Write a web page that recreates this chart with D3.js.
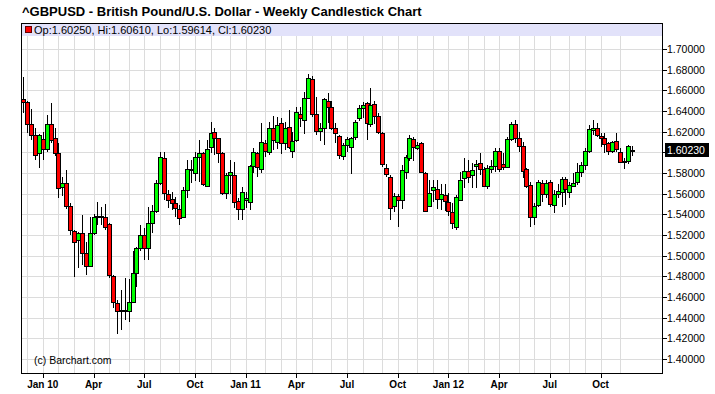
<!DOCTYPE html>
<html>
<head>
<meta charset="utf-8">
<script src="https://cdn.jsdelivr.net/npm/d3@7"></script>
<style>
  html, body { margin: 0; padding: 0; background: #fff; }
  svg { display: block; font-family: "Liberation Sans", Arial, sans-serif; }
</style>
</head>
<body>
<svg id="chart" width="715" height="394"></svg>
<script>
// ---- Data (weekly OHLC, ^GBPUSD, weeks starting Mon 30 Nov 2009) ----
const firstWeek = "2009-11-30";
const open = [
1.6513,1.6484,1.6271,1.6168,1.5990,1.6126,1.6029,1.6271,1.6135,1.5997,
1.5661,1.5706,1.5481,1.5242,1.5152,1.5216,1.5022,1.4900,1.5216,1.5371,
1.5377,1.5377,1.5306,1.4803,1.4545,1.4468,1.4468,1.4468,1.4555,1.4829,
1.5071,1.5200,1.5071,1.5313,1.5432,1.5700,1.5942,1.5597,1.5545,1.5513,
1.5452,1.5377,1.5635,1.5830,1.5797,1.5958,1.5990,1.5677,1.6055,1.6200,
1.6135,1.5997,1.5603,1.5781,1.5781,1.5532,1.5448,1.5536,1.5523,1.5868,
1.5990,1.5835,1.6087,1.6006,1.6239,1.6103,1.6281,1.6094,1.6248,1.6013,
1.6119,1.6368,1.6313,1.6523,1.6706,1.6371,1.6206,1.6232,1.6500,1.6435,
1.6232,1.6161,1.5964,1.6071,1.6048,1.6145,1.6329,1.6426,1.6474,1.6274,
1.6465,1.6352,1.6184,1.5845,1.5758,1.5484,1.5577,1.5539,1.5813,1.5942,
1.6126,1.6042,1.6094,1.5797,1.5484,1.5635,1.5645,1.5548,1.5590,1.5516,
1.5419,1.5281,1.5539,1.5748,1.5819,1.5781,1.5868,1.5894,1.5835,1.5674,
1.5835,1.5871,1.6016,1.5884,1.5861,1.6126,1.6274,1.6142,1.6065,1.5835,
1.5684,1.5377,1.5490,1.5700,1.5597,1.5716,1.5490,1.5600,1.5619,1.5742,
1.5619,1.5674,1.5710,1.5813,1.5877,1.6016,1.6216,1.6232,1.6158,1.6135,
1.6087,1.6016,1.6113,1.6006,1.5903,1.5913,1.60250];
const high = [
1.6732,1.6500,1.6416,1.6232,1.6180,1.6200,1.6361,1.6474,1.6232,1.6087,
1.5764,1.5829,1.5506,1.5248,1.5232,1.5394,1.5135,1.5377,1.5400,1.5523,
1.5474,1.5500,1.5320,1.4810,1.4570,1.4668,1.4781,1.4770,1.5050,1.5087,
1.5297,1.5264,1.5474,1.5490,1.5732,1.6006,1.6006,1.5635,1.5619,1.5571,
1.5490,1.5668,1.5926,1.5926,1.6000,1.6119,1.6000,1.6119,1.6297,1.6232,
1.6135,1.6006,1.5800,1.5926,1.5910,1.5560,1.5668,1.5619,1.5880,1.6039,
1.6006,1.6281,1.6119,1.6297,1.6352,1.6345,1.6329,1.6297,1.6410,1.6200,
1.6442,1.6442,1.6587,1.6758,1.6739,1.6539,1.6281,1.6523,1.6571,1.6500,
1.6281,1.6168,1.6087,1.6145,1.6150,1.6310,1.6460,1.6490,1.6490,1.6619,
1.6500,1.6380,1.6200,1.5890,1.5780,1.5610,1.5600,1.5877,1.5970,1.6170,
1.6150,1.6100,1.6100,1.5810,1.5729,1.5729,1.5729,1.5690,1.5690,1.5610,
1.5506,1.5587,1.5813,1.5942,1.5926,1.5894,1.5926,1.5990,1.5860,1.5880,
1.5930,1.6039,1.6039,1.5990,1.6152,1.6297,1.6313,1.6200,1.6103,1.5845,
1.5716,1.5506,1.5730,1.5730,1.5730,1.5730,1.5640,1.5690,1.5765,1.5765,
1.5716,1.5797,1.5894,1.5910,1.6039,1.6265,1.6313,1.6281,1.6184,1.6184,
1.6103,1.6113,1.6184,1.6039,1.5942,1.6071,1.60610];
const low = [
1.6384,1.6190,1.6119,1.5926,1.5845,1.5926,1.6000,1.6087,1.5960,1.5555,
1.5580,1.5450,1.5200,1.4790,1.4877,1.4910,1.4813,1.4890,1.5200,1.5300,
1.5300,1.5250,1.4780,1.4490,1.4242,1.4281,1.4378,1.4361,1.4550,1.4700,
1.5050,1.4958,1.4958,1.5216,1.5410,1.5684,1.5539,1.5458,1.5442,1.5377,
1.5297,1.5361,1.5555,1.5700,1.5720,1.5716,1.5670,1.5668,1.5990,1.5974,
1.5900,1.5587,1.5550,1.5600,1.5458,1.5345,1.5345,1.5458,1.5442,1.5800,
1.5758,1.5797,1.5958,1.5974,1.6023,1.6029,1.5984,1.6023,1.6029,1.5942,
1.6100,1.6248,1.6177,1.6513,1.6345,1.6168,1.6113,1.6071,1.6281,1.6216,
1.6094,1.5932,1.5926,1.6000,1.5790,1.6119,1.6300,1.6330,1.6119,1.6248,
1.6270,1.6180,1.5860,1.5760,1.5350,1.5420,1.5281,1.5450,1.5740,1.5920,
1.5920,1.6020,1.5797,1.5430,1.5470,1.5520,1.5450,1.5440,1.5430,1.5380,
1.5260,1.5248,1.5530,1.5652,1.5700,1.5652,1.5652,1.5781,1.5660,1.5650,
1.5800,1.5813,1.5813,1.5830,1.5845,1.6110,1.6090,1.6000,1.5748,1.5652,
1.5274,1.5297,1.5470,1.5520,1.5560,1.5470,1.5410,1.5555,1.5468,1.5490,
1.5555,1.5660,1.5684,1.5765,1.5829,1.5990,1.6168,1.6152,1.6055,1.5990,
1.5974,1.5990,1.6000,1.5894,1.5835,1.5887,1.59614];
const close = [
1.6484,1.6271,1.6168,1.5974,1.6168,1.6029,1.6271,1.6119,1.5997,1.5652,
1.5706,1.5481,1.5248,1.5135,1.5216,1.5022,1.4900,1.5216,1.5371,1.5380,
1.5380,1.5281,1.4810,1.4555,1.4464,1.4470,1.4475,1.4555,1.4829,1.5071,
1.5200,1.5071,1.5313,1.5432,1.5700,1.5952,1.5603,1.5539,1.5513,1.5458,
1.5361,1.5635,1.5835,1.5840,1.5958,1.5997,1.5694,1.6029,1.6184,1.6135,
1.5997,1.5603,1.5781,1.5813,1.5523,1.5448,1.5619,1.5555,1.5868,1.6006,
1.5861,1.6103,1.6016,1.6239,1.6119,1.6265,1.6094,1.6239,1.6048,1.6113,
1.6387,1.6329,1.6523,1.6716,1.6371,1.6206,1.6232,1.6513,1.6442,1.6232,
1.6190,1.5974,1.6071,1.6129,1.6135,1.6297,1.6426,1.6460,1.6281,1.6458,
1.6352,1.6200,1.5884,1.5787,1.5464,1.5577,1.5539,1.5829,1.5952,1.6135,
1.6048,1.6068,1.5806,1.5435,1.5603,1.5668,1.5545,1.5594,1.5529,1.5432,
1.5319,1.5564,1.5732,1.5819,1.5765,1.5829,1.5887,1.5835,1.5674,1.5845,
1.5871,1.6016,1.5835,1.5861,1.6126,1.6274,1.6142,1.6065,1.5819,1.5674,
1.5371,1.5481,1.5716,1.5597,1.5706,1.5497,1.5600,1.5630,1.5742,1.5645,
1.5684,1.5700,1.5806,1.5877,1.6016,1.6223,1.6232,1.6168,1.6135,1.6081,
1.6016,1.6103,1.6029,1.5903,1.5913,1.6061,1.60230];
const yTickValues = [1.40,1.42,1.44,1.46,1.48,1.50,1.52,1.54,1.56,1.58,1.60,1.62,1.64,1.66,1.68,1.70];
const quarterMonths = [0, 3, 6, 9];
const titleText = "^GBPUSD - British Pound/U.S. Dollar - Weekly Candlestick Chart";
const creditText = "(c) Barchart.com";

// ---- Build ----
const parse = d3.timeParse("%Y-%m-%d");
const start = parse(firstWeek);
const n = open.length;
const data = d3.range(n).map(i => ({
  date: d3.timeDay.offset(start, 7 * i),
  o: open[i], h: high[i], l: low[i], c: close[i]
}));
const last = data[n - 1];

const plot = { left: 21, right: 662, top: 23, bottom: 373 };
const svg = d3.select("#chart");

const x = d3.scaleTime()
  .domain([data[0].date, last.date])
  .range([23.3, 631.7]);
const y = d3.scaleLinear().domain([1.40, 1.70]).range([359, 49]);

const monthStarts = data.filter((d, i) => i > 0 && d.date.getMonth() !== data[i - 1].date.getMonth());
const quarterStarts = monthStarts.filter(d => quarterMonths.includes(d.date.getMonth()));

// title
svg.append("text")
  .attr("x", 22).attr("y", 16)
  .attr("font-size", 13).attr("font-weight", "bold").attr("fill", "#000")
  .text(titleText);

svg.append("rect")
  .attr("x", plot.left).attr("y", plot.top)
  .attr("width", plot.right - plot.left).attr("height", plot.bottom - plot.top)
  .attr("fill", "#fff");

const grid = svg.append("g").attr("shape-rendering", "crispEdges");
grid.selectAll("line.h").data(yTickValues).join("line")
  .attr("x1", plot.left).attr("x2", plot.right)
  .attr("y1", d => Math.round(y(d)) + 0.5).attr("y2", d => Math.round(y(d)) + 0.5)
  .attr("stroke", "#dcdcdc").attr("stroke-width", 1);
grid.selectAll("line.v").data(monthStarts).join("line")
  .attr("x1", d => Math.round(x(d.date)) + 0.5).attr("x2", d => Math.round(x(d.date)) + 0.5)
  .attr("y1", plot.top).attr("y2", plot.bottom)
  .attr("stroke", "#dcdcdc").attr("stroke-width", 1);

// legend band
svg.append("rect")
  .attr("x", plot.left).attr("y", plot.top)
  .attr("width", plot.right - plot.left).attr("height", 13)
  .attr("fill", "#e2e2fa");
svg.append("rect")
  .attr("x", 25.5).attr("y", 26.5).attr("width", 6).attr("height", 6)
  .attr("fill", "#ff0000").attr("stroke", "#600").attr("stroke-width", 1)
  .attr("shape-rendering", "crispEdges");
const f5 = d3.format(".5f");
svg.append("text")
  .attr("x", 34).attr("y", 34)
  .attr("font-size", 11).attr("fill", "#000")
  .text(`Op:${f5(last.o)}, Hi:${f5(last.h)}, Lo:${f5(last.l)}, Cl:${f5(last.c)}`);

// candles
const candles = svg.append("g").attr("shape-rendering", "crispEdges");
const cg = candles.selectAll("g").data(data).join("g");
cg.append("line")
  .attr("x1", d => Math.round(x(d.date)) + 0.5).attr("x2", d => Math.round(x(d.date)) + 0.5)
  .attr("y1", d => y(d.h)).attr("y2", d => y(d.l))
  .attr("stroke", "#000").attr("stroke-width", 1);
cg.append("rect")
  .attr("x", d => Math.round(x(d.date)) - 1.5)
  .attr("width", 4)
  .attr("y", d => Math.round(y(Math.max(d.o, d.c))) + 0.5)
  .attr("height", d => Math.max(1, Math.round(y(Math.min(d.o, d.c))) - Math.round(y(Math.max(d.o, d.c)))))
  .attr("fill", d => d.c >= d.o ? "#00ff00" : "#ff0000")
  .attr("stroke", "#000").attr("stroke-width", 1);

// credit
svg.append("text")
  .attr("x", 34).attr("y", 364)
  .attr("font-size", 10.5).attr("fill", "#000")
  .text(creditText);

// border
svg.append("rect")
  .attr("x", plot.left + 0.5).attr("y", plot.top + 0.5)
  .attr("width", plot.right - plot.left).attr("height", plot.bottom - plot.top)
  .attr("fill", "none").attr("stroke", "#000").attr("stroke-width", 1)
  .attr("shape-rendering", "crispEdges");

// right axis
const priceY = y(last.c);
const yAxis = svg.append("g").attr("shape-rendering", "crispEdges");
yAxis.selectAll("line").data(yTickValues).join("line")
  .attr("x1", plot.right).attr("x2", plot.right + 5)
  .attr("y1", d => Math.round(y(d)) + 0.5).attr("y2", d => Math.round(y(d)) + 0.5)
  .attr("stroke", "#000");
svg.append("g").selectAll("text")
  .data(yTickValues.filter(v => Math.abs(y(v) - priceY) > 12))
  .join("text")
  .attr("x", plot.right + 5).attr("y", d => y(d) + 4)
  .attr("font-size", 10.5).attr("fill", "#000")
  .text(d => f5(d));
svg.append("rect")
  .attr("x", plot.right + 3).attr("y", Math.round(priceY) - 7)
  .attr("width", 44).attr("height", 14).attr("fill", "#000");
svg.append("text")
  .attr("x", plot.right + 5).attr("y", priceY + 4)
  .attr("font-size", 10.5).attr("fill", "#fff")
  .text(f5(last.c));

// bottom axis
const xAxis = svg.append("g").attr("shape-rendering", "crispEdges");
xAxis.selectAll("line").data(quarterStarts).join("line")
  .attr("x1", d => Math.round(x(d.date)) + 0.5).attr("x2", d => Math.round(x(d.date)) + 0.5)
  .attr("y1", plot.bottom).attr("y2", plot.bottom + 5)
  .attr("stroke", "#000");
const fmtYear = d3.timeFormat("%y"), fmtMon = d3.timeFormat("%b");
svg.append("g").selectAll("text").data(quarterStarts).join("text")
  .attr("x", d => x(d.date)).attr("y", 388)
  .attr("text-anchor", "middle")
  .attr("font-size", 10).attr("font-weight", "bold").attr("fill", "#000")
  .text(d => d.date.getMonth() === 0 ? `Jan ${fmtYear(d.date)}` : fmtMon(d.date));
</script>
</body>
</html>
